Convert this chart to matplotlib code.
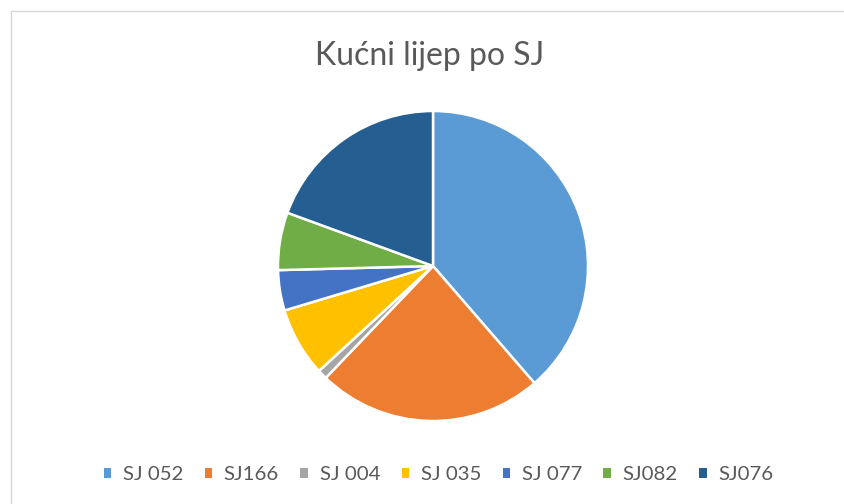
import matplotlib
matplotlib.use("Agg")
import matplotlib.pyplot as plt
import matplotlib.patches as mpatches

plt.rcParams['font.family'] = ['Lato', 'DejaVu Sans']

categories = ["SJ 052", "SJ166", "SJ 004", "SJ 035", "SJ 077", "SJ082", "SJ076"]
values = [38.6, 23.5, 1.0, 7.2, 4.2, 6.0, 19.4]
colors = ["#5B9BD5", "#ED7D31", "#A5A5A5", "#FFC000", "#4472C4", "#70AD47", "#255E91"]
title = "Kućni lijep po SJ"

W, H = 844, 504
fig = plt.figure(figsize=(W / 100, H / 100), dpi=100)
fig.patch.set_facecolor("white")

# chart border (only top/left visible in crop)
border = mpatches.Rectangle((10.7 / W, -0.1), 1.2, (H - 10.7) / H + 0.1,
                            transform=fig.transFigure, fill=False,
                            edgecolor="#D9D9D9", linewidth=1.0)
fig.patches.append(border)

cx, cy, r = 433, 266, 155
ax = fig.add_axes([(cx - r) / W, (H - cy - r) / H, 2 * r / W, 2 * r / H])
ax.pie(values, colors=colors, startangle=90, counterclock=False, radius=1,
       wedgeprops=dict(edgecolor="white", linewidth=1.8))
ax.set_xlim(-1, 1)
ax.set_ylim(-1, 1)
ax.axis("off")

fig.text(430 / W, 1 - 65 / H, title, ha="center", va="baseline",
         fontsize=23, color="#595959")

handles = [mpatches.Patch(facecolor=c, edgecolor="none") for c in colors]
fig.legend(handles, categories, loc="center", bbox_to_anchor=(438.5 / W, 1 - 475 / H),
           ncol=7, frameon=False, fontsize=14.7, labelcolor="#595959",
           handlelength=0.39, handleheight=0.39, handletextpad=0.55,
           columnspacing=1.05, borderpad=0, borderaxespad=0)

fig.savefig("out.png", dpi=100, facecolor="white")
